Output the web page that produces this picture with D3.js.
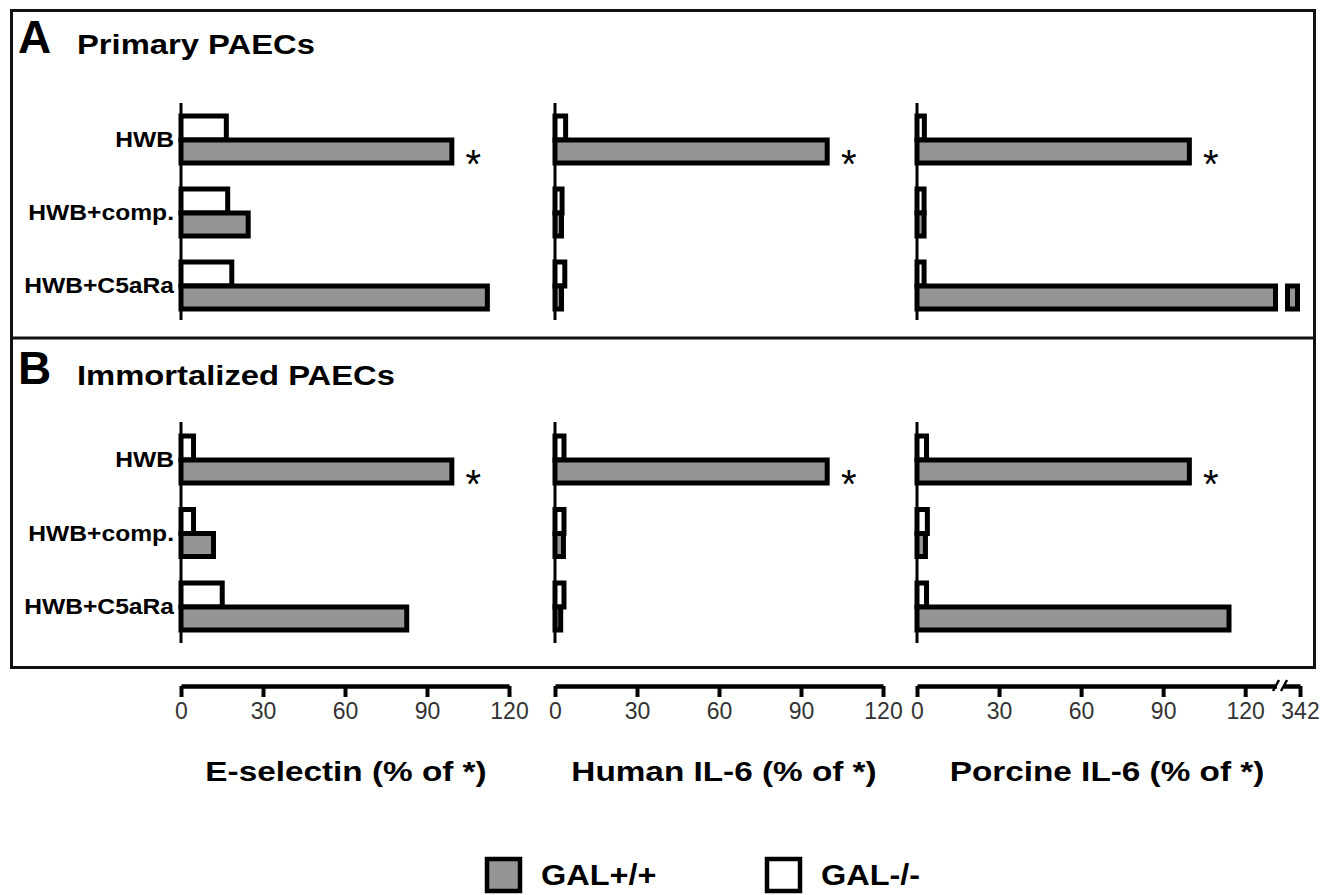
<!DOCTYPE html>
<html>
<head>
<meta charset="utf-8">
<script src="https://cdn.jsdelivr.net/npm/d3@7"></script>
<style>
  html, body { margin: 0; padding: 0; background: #fff; }
  svg { display: block; font-family: "Liberation Sans", Arial, sans-serif; }
</style>
</head>
<body>
<svg id="chart" width="1337" height="895"></svg>
<script>
// ---------------- DATA ----------------
const categories = ["HWB", "HWB+comp.", "HWB+C5aRa"];
const panelLetters = ["A", "B"];
const panelTitles = ["Primary PAECs", "Immortalized PAECs"];
const measures = ["E-selectin (% of *)", "Human IL-6 (% of *)", "Porcine IL-6 (% of *)"];
const seriesNames = ["GAL+/+", "GAL-/-"];
const tickValuesStd = [0, 30, 60, 90, 120];
const tickValuesPorcine = [0, 30, 60, 90, 120, 342];
const significantCategory = ["HWB"];

// Panel A (Primary PAECs)
const galPosA_Esel = [100, 25.5, 113];
const galNegA_Esel = [17.5, 18, 19.5];
const galPosA_hIL6 = [100.5, 3.3, 3.3];
const galNegA_hIL6 = [4.8, 3.5, 4.5];
const galPosA_pIL6 = [100.5, 3.5, 342];
const galNegA_pIL6 = [3.6, 3.5, 3.5];
// Panel B (Immortalized PAECs)
const galPosB_Esel = [100, 12.8, 83.5];
const galNegB_Esel = [5.5, 5.5, 16];
const galPosB_hIL6 = [100.5, 4, 3];
const galNegB_hIL6 = [4.2, 4.2, 4.2];
const galPosB_pIL6 = [100.5, 4, 115];
const galNegB_pIL6 = [4.4, 4.7, 4.4];

const panelData = [
  [[galPosA_Esel, galNegA_Esel], [galPosA_hIL6, galNegA_hIL6], [galPosA_pIL6, galNegA_pIL6]],
  [[galPosB_Esel, galNegB_Esel], [galPosB_hIL6, galNegB_hIL6], [galPosB_pIL6, galNegB_pIL6]]
];

// ---------------- LAYOUT ----------------
const svg = d3.select("#chart");
const GRAY = "#959595";
const BAR_STROKE = 5;
const BAR_H = 24;

// x scales (one per measure)
const xScales = [
  d3.scaleLinear().domain([0, 120]).range([181, 509]),
  d3.scaleLinear().domain([0, 120]).range([555, 883]),
  d3.scaleLinear().domain([0, 132, 330, 342]).range([917, 1278, 1285, 1300])
];
const porcineBreak = [132, 330];

const panelGeom = [
  { yTop: 103, yBot: 320, cat: [140, 286], titleY: 53 },
  { yTop: 422, yBot: 643, cat: [460, 607], titleY: 384 }
];

function addText(g, x, y, str, o) {
  return g.append("text")
    .attr("transform", `translate(${x},${y}) scale(${o.sx || 1},1)`)
    .attr("text-anchor", o.anchor || "start")
    .attr("font-size", o.size)
    .attr("font-weight", o.weight || "normal")
    .attr("fill", o.fill || "#000")
    .text(str);
}

// Outer frame
svg.append("rect").attr("x", 11.5).attr("y", 10.5).attr("width", 1303).attr("height", 657)
  .attr("fill", "none").attr("stroke", "#111").attr("stroke-width", 3);
svg.append("line").attr("x1", 11.5).attr("x2", 1314.5).attr("y1", 338).attr("y2", 338)
  .attr("stroke", "#111").attr("stroke-width", 3);

panelGeom.forEach((pg, pi) => {
  const g = svg.append("g");
  addText(g, 18, pg.titleY, panelLetters[pi], { size: 46, weight: "bold" });
  addText(g, 77, pg.titleY + 1, panelTitles[pi], { size: 28, weight: "bold", sx: 1.17 });

  const y = d3.scalePoint().domain(categories).range(pg.cat);

  // category labels
  categories.forEach(c => {
    addText(g, 174, y(c) + 7, c, { size: 22, weight: "bold", sx: 1.12, anchor: "end" });
  });

  xScales.forEach((x, mi) => {
    const x0 = x(0);
    const [pos, neg] = panelData[pi][mi];
    const mg = g.append("g");

    // GAL-/- (white, top)
    mg.selectAll("rect.neg").data(categories).join("rect")
      .attr("class", "neg")
      .attr("x", x0)
      .attr("y", c => y(c) - BAR_H)
      .attr("width", (c, i) => Math.max(1, x(neg[i]) - x0 - BAR_STROKE / 2))
      .attr("height", BAR_H)
      .attr("fill", "#fff").attr("stroke", "#000").attr("stroke-width", BAR_STROKE);

    // GAL+/+ (gray, bottom), broken for values beyond the axis break
    categories.forEach((c, i) => {
      const v = pos[i];
      if (mi === 2 && v > porcineBreak[0]) {
        mg.append("rect")
          .attr("x", x0).attr("y", y(c)).attr("height", BAR_H - 1)
          .attr("width", x(porcineBreak[0]) - x0 - BAR_STROKE / 2)
          .attr("fill", GRAY).attr("stroke", "#000").attr("stroke-width", BAR_STROKE);
        mg.append("rect")
          .attr("x", x(porcineBreak[1]) + BAR_STROKE / 2).attr("y", y(c)).attr("height", BAR_H - 1)
          .attr("width", x(v) - x(porcineBreak[1]) - BAR_STROKE)
          .attr("fill", GRAY).attr("stroke", "#000").attr("stroke-width", BAR_STROKE);
      } else {
        mg.append("rect")
          .attr("x", x0).attr("y", y(c)).attr("height", BAR_H - 1)
          .attr("width", Math.max(1, x(v) - x0 - BAR_STROKE / 2))
          .attr("fill", GRAY).attr("stroke", "#000").attr("stroke-width", BAR_STROKE);
      }
      if (significantCategory.includes(c)) {
        addText(mg, x(v) + 19, y(c) + 38, "*", { size: 40, anchor: "middle" });
      }
    });

    // vertical axis line
    mg.append("line").attr("x1", x0).attr("x2", x0).attr("y1", pg.yTop).attr("y2", pg.yBot)
      .attr("stroke", "#000").attr("stroke-width", 3);
  });
});

// ---------------- BOTTOM AXES ----------------
const axisTitleCenters = [346, 724, 1107];
xScales.forEach((x, mi) => {
  const ax = d3.axisBottom(x)
    .tickValues(mi === 2 ? tickValuesPorcine : tickValuesStd)
    .tickSize(11).tickSizeOuter(0).tickPadding(6)
    .tickFormat(d3.format("d"));
  const g = svg.append("g").attr("transform", "translate(0,686)").call(ax);
  g.select(".domain").attr("stroke", "#000").attr("stroke-width", 4.5);
  g.selectAll(".tick line").attr("stroke", "#000").attr("stroke-width", 4);
  g.selectAll(".tick text").attr("font-size", 23).attr("fill", "#333")
    .attr("font-family", "'Liberation Sans', Arial, sans-serif");

  if (mi === 2) {
    // axis break marks
    const bx1 = x(porcineBreak[0]) - 2, bx2 = x(porcineBreak[1]) - 1;
    g.append("rect").attr("x", bx1 + 1).attr("y", -4).attr("width", bx2 - bx1 - 1).attr("height", 8).attr("fill", "#fff");
    [bx1, bx2].forEach(bx => {
      g.append("line").attr("x1", bx - 3).attr("x2", bx + 3).attr("y1", 5).attr("y2", -6)
        .attr("stroke", "#000").attr("stroke-width", 2.5);
    });
  }

  addText(svg, axisTitleCenters[mi], 781, measures[mi], { size: 28, weight: "bold", sx: 1.19, anchor: "middle" });
});

// ---------------- LEGEND ----------------
const legend = svg.append("g");
const legendX = [487, 767];
const legendFill = [GRAY, "#fff"];
seriesNames.forEach((s, i) => {
  legend.append("rect").attr("x", legendX[i]).attr("y", 859).attr("width", 33).attr("height", 32)
    .attr("fill", legendFill[i]).attr("stroke", "#000").attr("stroke-width", 4.5);
  addText(legend, legendX[i] + 54, 885, s, { size: 29, weight: "bold", sx: 1.12 });
});
</script>
</body>
</html>
